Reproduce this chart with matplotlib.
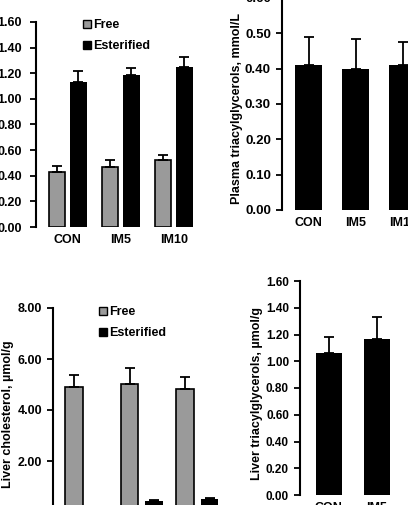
import matplotlib
matplotlib.use('Agg')
import matplotlib.pyplot as plt
from matplotlib.patches import Patch

plt.rcParams['font.family'] = 'Liberation Sans'
plt.rcParams['font.weight'] = 'bold'
plt.rcParams['font.size'] = 9

groups = ['CON', 'IM5', 'IM10']

# plasma cholesterol, mmol/L
plasma_free = [0.43, 0.47, 0.52]
plasma_free_err = [0.05, 0.05, 0.04]
plasma_est = [1.13, 1.19, 1.25]
plasma_est_err = [0.09, 0.05, 0.08]

# plasma triacylglycerols, mmol/L
plasma_tg = [0.41, 0.40, 0.41]
plasma_tg_err = [0.08, 0.085, 0.065]

# liver cholesterol, umol/g
liver_free = [4.90, 5.02, 4.82]
liver_free_err = [0.47, 0.63, 0.47]
liver_est = [0.20, 0.42, 0.50]
liver_est_err = [0.05, 0.06, 0.06]

# liver triacylglycerols, umol/g
liver_tg = [1.06, 1.17, 1.10]
liver_tg_err = [0.12, 0.16, 0.12]

W, H = 408, 505
fig = plt.figure(figsize=(W / 100, H / 100), dpi=100)


def px_axes(left, base, top, width):
    # axes placed with pixel positions from the picture (y measured from top)
    return fig.add_axes([left / W, (H - base) / H, width / W, (base - top) / H])


def style(ax, ylim, step, pad=4, size=9.5):
    ax.set_ylim(*ylim)
    ticks = [round(i * step, 2) for i in range(int(round(ylim[1] / step)) + 1)]
    ax.set_yticks(ticks)
    ax.set_yticklabels(['%.2f' % t for t in ticks])
    for s in ['top', 'right', 'bottom']:
        ax.spines[s].set_visible(False)
    ax.spines['left'].set_linewidth(1.5)
    ax.tick_params(axis='y', direction='out', length=4, width=1.3, pad=pad,
                   labelsize=size)
    ax.tick_params(axis='x', length=0, pad=5, labelsize=9)
    ax.patch.set_alpha(0)


err_kw = dict(ecolor='black', elinewidth=1.3, capsize=3.5, capthick=1.3)
gray = '#9a9a9a'
x = list(range(len(groups)))

# panel 1: plasma cholesterol
ax1 = px_axes(36, 227, 22, 190)
ax1.bar([i - 0.2 for i in x], plasma_free, 0.3, color=gray, edgecolor='black',
        linewidth=1.2, yerr=[[0] * 3, plasma_free_err], error_kw=err_kw)
ax1.bar([i + 0.2 for i in x], plasma_est, 0.33, color='black',
        yerr=[[0] * 3, plasma_est_err], error_kw=err_kw)
ax1.set_xlim(-0.6, -0.6 + 190 / 53)
ax1.set_xticks(x)
ax1.set_xticklabels(groups)
style(ax1, (0, 1.6), 0.2, pad=6, size=9)

# panel 2: plasma triacylglycerols
ax2 = px_axes(282, 210, -2, 170)
ax2.bar(x, plasma_tg, 0.57, color='black',
        yerr=[[0] * 3, plasma_tg_err], error_kw=err_kw)
ax2.set_xlim(-0.57, -0.57 + 170 / 47)
ax2.set_xticks(x)
ax2.set_xticklabels(groups)
style(ax2, (0, 0.6), 0.1)
fig.text(237 / W, 1 - 108 / H, 'Plasma triacylglycerols, mmol/L',
         rotation=90, ha='center', va='center', fontsize=9)

# panel 3: liver cholesterol
ax3 = px_axes(53, 512, 308, 200)
ax3.bar([i - 0.22 for i in x], liver_free, 0.32, color=gray, edgecolor='black',
        linewidth=1.2, yerr=[[0] * 3, liver_free_err], error_kw=err_kw)
ax3.bar([i + 0.22 for i in x], liver_est, 0.32, color='black',
        yerr=[[0] * 3, liver_est_err], error_kw=err_kw)
ax3.set_xlim(-0.6, -0.6 + 200 / 55.5)
ax3.set_xticks(x)
ax3.set_xticklabels(groups)
style(ax3, (0, 8), 2, size=9)
ax3.set_yticks([2, 4, 6, 8])
ax3.set_yticklabels(['2.00', '4.00', '6.00', '8.00'])
fig.text(8 / W, 1 - 414 / H, 'Liver cholesterol, \u00b5mol/g',
         rotation=90, ha='center', va='center', fontsize=9)

# panel 4: liver triacylglycerols
ax4 = px_axes(300, 495, 281, 150)
ax4.bar(x, liver_tg, 0.54, color='black',
        yerr=[[0] * 3, liver_tg_err], error_kw=err_kw)
ax4.set_xlim(-0.6, -0.6 + 150 / 48)
ax4.set_xticks(x)
ax4.set_xticklabels(groups)
style(ax4, (0, 1.6), 0.2, size=8.5)
fig.text(257 / W, 1 - 393 / H, 'Liver triacylglycerols, \u00b5mol/g',
         rotation=90, ha='center', va='center', fontsize=9)

handles = [Patch(facecolor=gray, edgecolor='black', linewidth=1.0, label='Free'),
           Patch(facecolor='black', edgecolor='black', label='Esterified')]
for ax, (lx, ly) in [(ax1, (83, 19)), (ax3, (99, 306))]:
    ax.legend(handles=handles, loc='upper left', bbox_to_anchor=(lx / W, 1 - ly / H),
              bbox_transform=fig.transFigure, frameon=False, handlelength=0.6,
              handleheight=0.6, handletextpad=0.2, labelspacing=0.75,
              borderpad=0, borderaxespad=0)

fig.savefig('out.png', dpi=100)
